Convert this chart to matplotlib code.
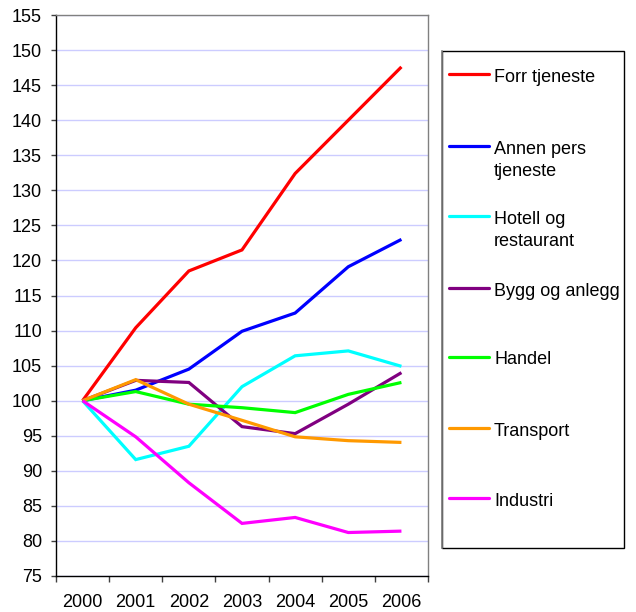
import matplotlib
matplotlib.use('Agg')
import matplotlib.pyplot as plt
from matplotlib.patches import Rectangle
from matplotlib.ticker import FixedLocator

plt.rcParams['font.family'] = ['Liberation Sans', 'DejaVu Sans']

# Data (index, 2000 = 100)
years = ["2000", "2001", "2002", "2003", "2004", "2005", "2006"]
forr_tjeneste = [100, 110.4, 118.5, 121.5, 132.4, 140.0, 147.6]
annen_pers = [100, 101.5, 104.5, 109.9, 112.5, 119.1, 123.0]
hotell = [100, 91.6, 93.5, 102.0, 106.4, 107.1, 104.9]
bygg = [100, 102.9, 102.6, 96.3, 95.3, 99.5, 104.0]
handel = [100, 101.3, 99.5, 99.0, 98.3, 100.9, 102.6]
transport = [100, 103.0, 99.5, 97.2, 94.85, 94.3, 94.05]
industri = [100, 94.85, 88.3, 82.5, 83.35, 81.2, 81.4]

labels = ["Forr tjeneste", "Annen pers\ntjeneste", "Hotell og\nrestaurant",
          "Bygg og anlegg", "Handel", "Transport", "Industri"]
colors = ["#FF0000", "#0000FF", "#00FFFF", "#800080", "#00FF00", "#FF9900", "#FF00FF"]
series = [forr_tjeneste, annen_pers, hotell, bygg, handel, transport, industri]

FS = 13
W, H = 636, 612
fig = plt.figure(figsize=(W / 100, H / 100), dpi=100)

# plot area in pixels: left 56, right 428, top 15, bottom 576
ax = fig.add_axes([56 / W, 1 - 576 / H, (428 - 56) / W, (576 - 15) / H])

x = list(range(len(years)))
for vals, c in zip(series, colors):
    ax.plot(x, vals, color=c, lw=2.3, solid_joinstyle='miter', solid_capstyle='butt')

ax.set_xlim(-0.5, len(years) - 0.5)
ax.set_ylim(75, 155)
ax.set_yticks(range(75, 156, 5))
ax.set_xticks(x)
ax.set_xticklabels(years)
ax.xaxis.set_minor_locator(FixedLocator([i - 0.5 for i in range(len(years) + 1)]))
ax.tick_params(axis='x', which='major', length=0, pad=13, labelsize=FS)
ax.tick_params(axis='x', which='minor', length=4.5, width=1, color='#404040', direction='out')
ax.tick_params(axis='y', length=3.5, width=1, color='#404040', direction='out', pad=6.5,
               labelsize=FS)

ax.grid(axis='y', color='#CCCCFF', lw=1)
ax.set_axisbelow(True)
for side in ['top', 'right']:
    ax.spines[side].set_color('#808080')
    ax.spines[side].set_linewidth(1)
for side in ['left', 'bottom']:
    ax.spines[side].set_color('black')
    ax.spines[side].set_linewidth(1)

# Legend box drawn by hand in pixel space (left 442, right 624, top 51, bottom 548)
lax = fig.add_axes([0, 0, 1, 1], facecolor='none')
lax.set_xlim(0, W)
lax.set_ylim(H, 0)
lax.axis('off')
lax.add_patch(Rectangle((442, 51), 624 - 442, 548 - 51, fill=False,
                        edgecolor='black', lw=1))
lax.plot([442, 442], [51, 548], color='#808080', lw=1.2)
entry_y = [74, 146, 216, 288, 357, 428, 498]
for lab, c, yy in zip(labels, colors, entry_y):
    lax.plot([449, 489], [yy, yy], color=c, lw=2.3, solid_capstyle='round')
    for k, line in enumerate(lab.split("\n")):
        lax.text(494, yy + 7.5 + 22 * k, line, fontsize=FS, va='baseline', ha='left')

fig.savefig('out.png', dpi=100)
